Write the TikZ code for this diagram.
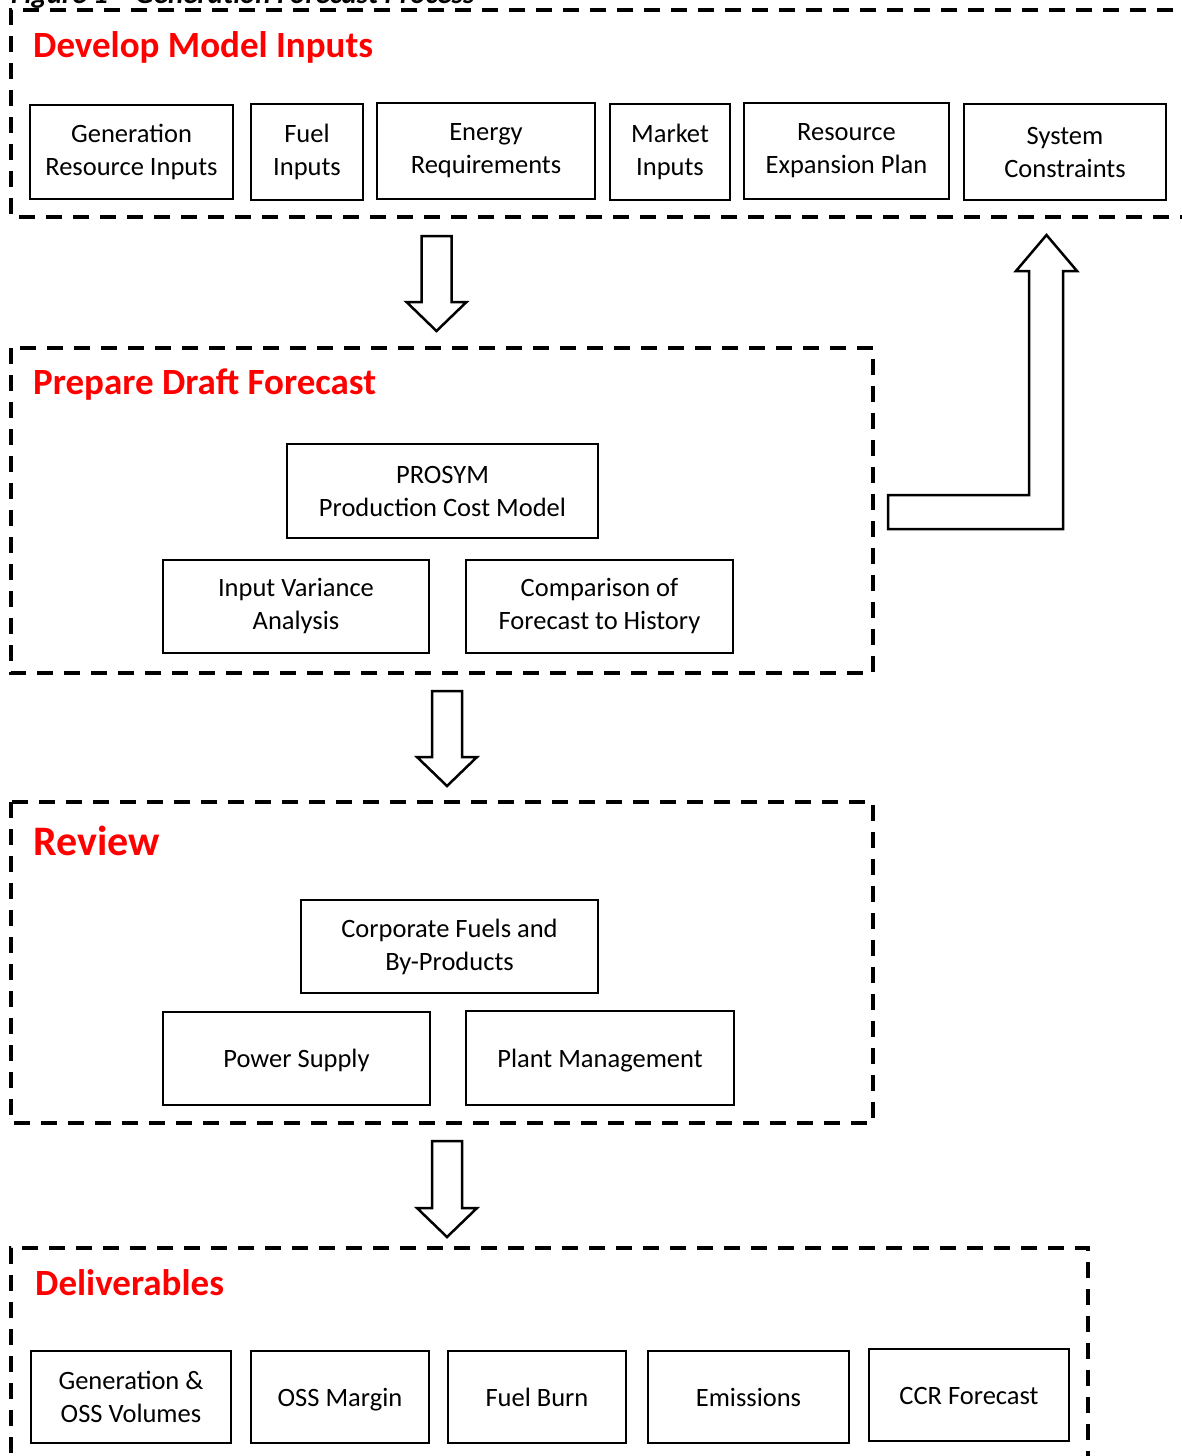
\documentclass[tikz,border=0pt]{standalone}
\usepackage{fontspec}
\setmainfont{Carlito}
\definecolor{hdred}{RGB}{255,0,0}
\tikzset{
  box/.style={draw=black, line width=2pt, fill=white, align=center, inner sep=0pt,
    font=\fontsize{26.5}{33}\selectfont},
  section/.style={draw=black, line width=3.5pt, dash pattern=on 16pt off 11pt},
  hdr/.style={anchor=base west, inner sep=0pt, text=hdred, font=\fontsize{37}{44}\selectfont\bfseries},
  blockarrow/.style={draw=black, line width=2.5pt, fill=white, line join=miter},
}
\newcommand{\downblock}[4]{% cx, top, headbase, tip
  \draw[blockarrow] (#1-15,#2) -- (#1+15,#2) -- (#1+15,#3) -- (#1+30,#3) -- (#1,#4)
    -- (#1-30,#3) -- (#1-15,#3) -- cycle;}
\begin{document}
\begin{tikzpicture}[x=1pt,y=-1pt]
\useasboundingbox (0,0) rectangle (1182,1456);
% title (cut off at the top, as in the source)
\node[anchor=base west, inner sep=0pt, font=\fontsize{29}{34}\selectfont\bfseries\itshape] (title) at (11,3) {Figure 1 -- Generation Forecast Process};
% sections
\draw[section] (1200,10) -- (11,10) -- (11,217) -- (1200,217);
\draw[section] (11,348) rectangle (873,673);
\draw[section] (11,802) rectangle (873,1123);
\draw[section] (11,1480) -- (11,1248) -- (1088,1248) -- (1088,1480);
% headers
\node[hdr] (h1) at (33,57) {Develop Model Inputs};
\node[hdr] (h2) at (33,394) {Prepare Draft Forecast};
\node[hdr, font=\fontsize{42}{48}\selectfont\bfseries] (h3) at (33,855) {Review};
\node[hdr] (h4) at (35,1295) {Deliverables};
% row 1
\node[box, minimum width=203pt, minimum height=94pt] (gri) at (131.5,152) {Generation\\Resource Inputs};
\node[box, minimum width=112pt, minimum height=96pt] (fuel) at (307,152) {Fuel\\Inputs};
\node[box, minimum width=218pt, minimum height=96pt] (energy) at (486,151) {Energy\\Requirements};
\node[box, minimum width=120pt, minimum height=96pt] (market) at (670,152) {Market\\Inputs};
\node[box, minimum width=205pt, minimum height=96pt] (rep) at (846.5,151) {Resource\\Expansion Plan};
\node[box, minimum width=202pt, minimum height=96pt] (sys) at (1065,152) {System\\Constraints};
% section 2
\node[box, minimum width=311pt, minimum height=94pt] (prosym) at (442.5,491) {PROSYM\\Production Cost Model};
\node[box, minimum width=266pt, minimum height=93pt] (iva) at (296,606.5) {Input Variance\\Analysis};
\node[box, minimum width=267pt, minimum height=93pt] (cmp) at (599.5,606.5) {Comparison of\\Forecast to History};
% section 3
\node[box, minimum width=297pt, minimum height=93pt] (corp) at (449.5,946.5) {Corporate Fuels and\\By-Products};
\node[box, minimum width=267pt, minimum height=93pt, text height=18pt, text depth=0pt] (ps) at (296.5,1058.5) {Power Supply};
\node[box, minimum width=268pt, minimum height=94pt, text height=18pt, text depth=0pt] (pm) at (600,1058) {Plant Management};
% section 4
\node[box, minimum width=200pt, minimum height=92pt] (gen) at (131,1397) {Generation \&\\OSS Volumes};
\node[box, minimum width=178pt, minimum height=92pt, text height=18pt, text depth=0pt] (oss) at (340,1397) {OSS Margin};
\node[box, minimum width=178pt, minimum height=92pt, text height=18pt, text depth=0pt] (fb) at (537,1397) {Fuel Burn};
\node[box, minimum width=201pt, minimum height=92pt, text height=18pt, text depth=0pt] (em) at (748.5,1397) {Emissions};
\node[box, minimum width=200pt, minimum height=92pt, text height=18pt, text depth=0pt] (ccr) at (969,1395) {CCR Forecast};
% block arrows
\downblock{436.5}{236}{302}{331}
\downblock{447}{691}{757}{786}
\downblock{447}{1141}{1208}{1237}
\draw[blockarrow] (888,529) -- (888,495) -- (1029,495) -- (1029,271) -- (1016,271)
  -- (1046.5,235) -- (1077,271) -- (1063,271) -- (1063,529) -- cycle;
\end{tikzpicture}
\end{document}
